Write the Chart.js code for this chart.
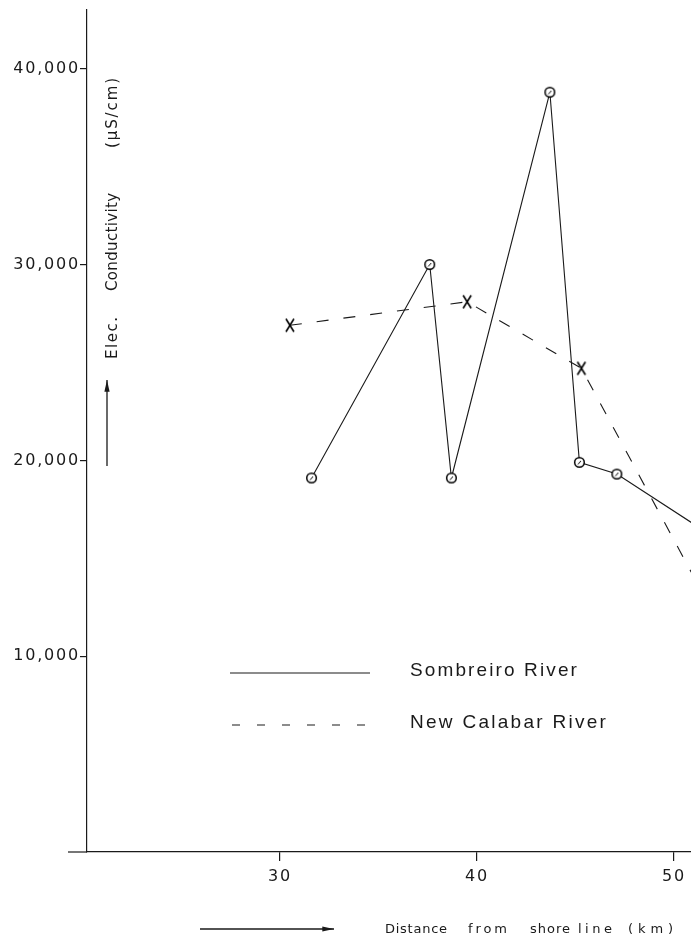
<!DOCTYPE html>
<html>
<head>
<meta charset="utf-8">
<script src="https://cdn.jsdelivr.net/npm/chart.js@4/dist/chart.umd.min.js"></script>
<style>
  html, body { margin: 0; padding: 0; background: #fff; overflow: hidden; }
  #wrap { width: 691px; height: 938px; overflow: hidden; }
  #chart { display: block; }
</style>
</head>
<body>
<!-- canvas is a few px wider than the window so the plot area reaches the right edge -->
<div id="wrap"><canvas id="chart" width="698" height="938" style="width:698px;height:938px"></canvas></div>
<script>
// ── Data ───────────────────────────────────────────────────────────────────
const sombreiroKm = [31.6, 37.6, 38.7, 43.7, 45.2, 47.1, 52.0];
const sombreiroEC = [19100, 30000, 19100, 38800, 19900, 19300, 16100];
const calabarKm = [30.5, 39.5, 45.3, 52.0];
const calabarEC = [26900, 28100, 24700, 12200];

const xTicks = [30, 40, 50];
const yTicks = [10000, 20000, 30000, 40000];
const seriesNames = ['Sombreiro River', 'New Calabar River'];

const INK = '#1a1a1a';

// ── Helpers ────────────────────────────────────────────────────────────────
function toPoints(xs, ys) {
  return xs.map((x, i) => ({ x: x, y: ys[i] }));
}

// draw text stretched (via letter spacing) to a given width, left aligned
function fitText(ctx, text, x, y, width) {
  ctx.letterSpacing = '0px';
  const w = ctx.measureText(text).width;
  const sp = text.length > 1 ? (width - w) / (text.length - 1) : 0;
  ctx.letterSpacing = sp.toFixed(2) + 'px';
  ctx.textAlign = 'left';
  ctx.fillText(text, x, y);
  ctx.letterSpacing = '0px';
}

function arrow(ctx, x1, y1, x2, y2) {
  const a = Math.atan2(y2 - y1, x2 - x1);
  ctx.beginPath();
  ctx.moveTo(x1, y1);
  ctx.lineTo(x2, y2);
  ctx.stroke();
  ctx.beginPath();
  ctx.moveTo(x2, y2);
  ctx.lineTo(x2 - 12 * Math.cos(a - 0.22), y2 - 12 * Math.sin(a - 0.22));
  ctx.lineTo(x2 - 12 * Math.cos(a + 0.22), y2 - 12 * Math.sin(a + 0.22));
  ctx.closePath();
  ctx.fill();
}

// hand-drawn style markers: letter-like X and a small circle with a tick
function makeCross() {
  const c = document.createElement('canvas');
  c.width = 12; c.height = 16;
  const g = c.getContext('2d');
  g.strokeStyle = '#000';
  g.lineWidth = 1.6;
  g.beginPath();
  g.moveTo(2, 1.5); g.lineTo(10, 14.5);
  g.moveTo(10, 1.5); g.lineTo(2, 14.5);
  g.stroke();
  return c;
}

function makeRing() {
  const c = document.createElement('canvas');
  c.width = 13; c.height = 13;
  const g = c.getContext('2d');
  g.fillStyle = '#fff';
  g.strokeStyle = '#000';
  g.lineWidth = 1.5;
  g.beginPath();
  g.arc(6.5, 6.5, 4.8, 0, Math.PI * 2);
  g.fill();
  g.stroke();
  g.lineWidth = 1;
  g.beginPath();
  g.moveTo(5, 8.5); g.lineTo(8, 5);
  g.stroke();
  return c;
}

// ── Annotations: titles, arrows, legend ─────────────────────────────────────
const annotations = {
  id: 'annotations',
  beforeDraw(chart) {
    chart.ctx.letterSpacing = '1.8px';
  },
  afterDraw(chart) {
    const ctx = chart.ctx;
    const area = chart.chartArea;
    ctx.save();
    ctx.strokeStyle = INK;
    ctx.fillStyle = INK;

    // x axis runs a little past the y axis
    ctx.lineWidth = 1.2;
    ctx.beginPath();
    ctx.moveTo(68, area.bottom);
    ctx.lineTo(area.left, area.bottom);
    ctx.stroke();

    // rotated y title
    ctx.font = '15px "DejaVu Sans"';
    ctx.textBaseline = 'middle';
    const yTitle = [['Elec.', 338, 42], ['Conductivity', 242, 98], ['(\u00b5S/cm)', 113, 70]];
    yTitle.forEach(([t, cy, w]) => {
      ctx.save();
      ctx.translate(113, cy);
      ctx.rotate(-Math.PI / 2);
      fitText(ctx, t, -w / 2, 0, w);
      ctx.restore();
    });
    ctx.lineWidth = 1.3;
    arrow(ctx, 107, 466, 107, 380);

    // x title
    ctx.font = '13px "DejaVu Sans"';
    const xTitle = [['Distance', 385, 62], ['from', 468, 39], ['shore', 530, 40], ['line', 578, 34], ['(km)', 628, 45]];
    xTitle.forEach(([t, x, w]) => fitText(ctx, t, x, 930, w));
    arrow(ctx, 200, 929, 334, 929);

    // legend
    ctx.lineWidth = 1.1;
    ctx.beginPath();
    ctx.moveTo(230, 673);
    ctx.lineTo(370, 673);
    ctx.stroke();
    ctx.setLineDash([8, 17]);
    ctx.beginPath();
    ctx.moveTo(232, 725);
    ctx.lineTo(370, 725);
    ctx.stroke();
    ctx.setLineDash([]);
    ctx.font = '19px "Liberation Sans"';
    fitText(ctx, seriesNames[0], 410, 671, 167);
    fitText(ctx, seriesNames[1], 410, 723, 196);

    ctx.restore();
  },
};

// ── Chart ──────────────────────────────────────────────────────────────────
const ctx = document.getElementById('chart').getContext('2d');
const chart = new Chart(ctx, {
  type: 'line',
  data: {
    datasets: [
      {
        label: seriesNames[0],
        data: toPoints(sombreiroKm, sombreiroEC),
        borderColor: INK,
        borderWidth: 1.1,
        tension: 0,
        pointStyle: makeRing(),
        pointRadius: 5,
      },
      {
        label: seriesNames[1],
        data: toPoints(calabarKm, calabarEC),
        borderColor: INK,
        borderWidth: 1.1,
        borderDash: [12, 15],
        tension: 0,
        pointStyle: makeCross(),
        pointRadius: 6,
      },
    ],
  },
  options: {
    responsive: false,
    devicePixelRatio: 1,
    animation: false,
    layout: { padding: { top: 10, right: 0, left: 0, bottom: 0 } },
    plugins: { legend: { display: false }, tooltip: { enabled: false } },
    scales: {
      x: {
        type: 'linear',
        min: 20.2,
        max: 50.86,
        afterBuildTicks: (s) => { s.ticks = xTicks.map((v) => ({ value: v })); },
        afterFit: (s) => { s.height = 86; s.paddingRight = 0; s.paddingLeft = 0; },
        grid: { display: true, drawOnChartArea: false, drawTicks: true, tickLength: 9, color: INK, lineWidth: 1.2 },
        border: { display: true, color: INK, width: 1.2 },
        ticks: { color: INK, font: { family: 'DejaVu Sans', size: 16 }, padding: 6, maxRotation: 0 },
      },
      y: {
        type: 'linear',
        min: 0,
        max: 43000,
        afterBuildTicks: (s) => { s.ticks = yTicks.map((v) => ({ value: v })); },
        afterFit: (s) => { s.width = 87; s.paddingTop = 0; s.paddingBottom = 0; },
        grid: { display: true, drawOnChartArea: false, drawTicks: true, tickLength: 7, color: INK, lineWidth: 1.2 },
        border: { display: true, color: INK, width: 1.2 },
        ticks: {
          color: INK,
          font: { family: 'DejaVu Sans', size: 16 },
          padding: 0,
          callback: (v) => v.toLocaleString('en-US'),
        },
      },
    },
  },
  plugins: [annotations],
});
</script>
</body>
</html>
